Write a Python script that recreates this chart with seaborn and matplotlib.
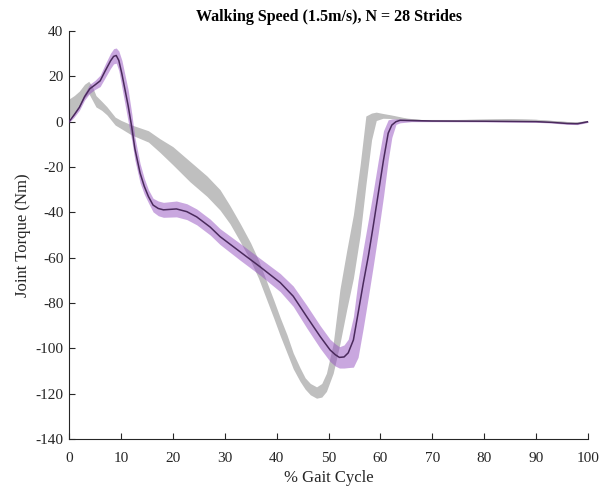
import matplotlib
matplotlib.use("Agg")
import matplotlib.pyplot as plt
import seaborn as sns

# ---- data ----
purple_x = [0, 1, 2, 3, 4, 5, 6, 7, 8, 8.6, 9.1, 9.6, 10.2, 10.8, 11.4, 12.1, 12.7, 13.7,
            14.5, 15.3, 16.2, 17.2, 18.2, 20.7, 22.7, 24.6, 27.2, 29.1, 32.9, 36.8, 40.7,
            43.2, 45.8, 48.4, 50.3, 51.3, 52.1, 53, 53.8, 54.8, 55.7, 56.7, 57.7, 58.6,
            59.6, 60.6, 61.5, 62.2, 63, 63.8, 66, 70, 80, 90, 93, 96, 98, 100]
purple_mean = [0, 3, 6.3, 11, 14.5, 16.2, 18, 22.5, 26.8, 28.8, 29.2, 27, 21, 14, 7, -2.5,
               -12, -22.7, -28.5, -33, -36.8, -38.3, -38.9, -38.5, -39.7, -42, -46.5,
               -50.7, -57.3, -64, -71, -77, -86, -94.8, -100.7, -102.8, -104, -103.8,
               -102, -96.3, -84.5, -71.3, -59, -46.3, -31.6, -16.9, -5.1, -1.5, 0, 0.6,
               0.5, 0.3, 0.2, 0, -0.3, -0.8, -0.9, 0]
purple_lo = [-0.5, 2, 5, 9.5, 12.5, 14.2, 15.5, 19.5, 23.5, 25.5, 25.8, 22.5, 15, 7.5,
             0, -8.5, -17, -27, -32, -35.8, -39.8, -41.5, -42.2, -42, -43.2, -45.5, -50,
             -54.2, -61, -67.7, -75, -81.5, -91, -100, -105.8, -107.8, -108.7, -108.7,
             -108.5, -108.3, -104, -91, -77, -64, -49, -33, -17, -7, -1.2, -0.5, 0, 0,
             -0.1, -0.3, -0.6, -1.2, -1.3, -0.3]
purple_hi = [0.5, 4, 7.5, 12.5, 16.5, 18.2, 20.5, 25.5, 30.2, 32.2, 32.5, 31.2, 27, 20.5,
             14, 3.5, -7, -18.5, -25, -30, -33.8, -35, -35.6, -35, -36.2, -38.5, -43,
             -47.2, -53.6, -60.3, -67, -72.5, -81, -90, -96, -98, -99.3, -98.5, -96, -86,
             -70, -56, -43, -31, -17, -4, 0.8, 1.2, 1.2, 1.2, 1, 0.6, 0.5, 0.3, 0, -0.4,
             -0.5, 0.3]

gray_x = [0, 1, 2, 3, 3.8, 4.5, 5.2, 6.3, 7.3, 8.9, 10, 12, 15.3, 17.5, 20, 23.3, 26.6,
          29.1, 31, 33, 35, 36.5, 38, 39.5, 40.7, 42, 43.2, 44.5, 45.5, 46.5, 47.7, 48.7,
          49.6, 50.9, 52.2, 53.5, 54.8, 56.1, 57.2, 58.3, 59.2, 60.5, 62, 65, 68, 75, 85,
          90, 95, 97.5, 100]
gray_mean = [5.5, 7.5, 10, 13.5, 15.2, 12.5, 9, 7, 4.8, 0.3, -1.2, -3.6, -6.5, -10.5, -15,
             -22, -28.5, -34.5, -41, -49, -57.5, -65, -74, -83, -90.4, -98, -105.5, -111.5,
             -115.5, -118, -119.5, -118.5, -115, -104.5, -86, -70, -55, -34.5, -12.5, 0,
             2.8, 2.6, 2.2, 1, 0.5, 0.5, 0.9, 0.6, -0.2, -0.6, 0]
gray_lo = [1.5, 3.5, 6.5, 10.5, 12.5, 9.5, 6.5, 5, 3, -1.5, -3, -5.8, -9, -13.5, -19,
           -26.5, -33, -39, -45, -53, -61.5, -69, -78, -87, -94.5, -102, -109, -114.5,
           -118, -120.5, -122, -121.5, -119, -111, -98, -83, -69, -50, -28, -8, 0.5, 1.5,
           1.4, 0.4, 0.1, 0.1, 0.5, 0.2, -0.6, -1, -0.3]
gray_hi = [10, 11.5, 13.5, 16.5, 17.8, 15.5, 11.5, 9, 6.6, 2, 0.6, -1.4, -4, -7.5, -11,
           -17.5, -24, -30, -37, -45, -53.5, -61, -70, -79, -86.5, -94, -102, -108.5,
           -113, -115.5, -117, -115.5, -111, -98, -74, -57, -41, -19, 2.5, 3.8, 4.2, 3.6,
           3, 1.6, 0.9, 0.9, 1.3, 1, 0.2, -0.2, 0.3]

x_ticks = list(range(0, 101, 10))
y_ticks = list(range(-140, 41, 20))
title = "Walking Speed (1.5m/s), N = 28 Strides"
x_label = "% Gait Cycle"
y_label = "Joint Torque (Nm)"

# ---- style ----
sns.set_style("ticks")
plt.rcParams["font.family"] = ["Liberation Serif", "DejaVu Serif"]
plt.rcParams["axes.unicode_minus"] = False

fig = plt.figure(figsize=(6.01, 4.87), dpi=100)
ax = fig.add_axes([69 / 601, 1 - 439 / 487, (588 - 69) / 601, (439 - 31) / 487])

gray_col = "#bfbfbf"
band_col = "#9551c1"
line_col = "#4a2a5c"

ax.fill_between(gray_x, gray_lo, gray_hi, color=gray_col, lw=0, zorder=1)
sns.lineplot(x=gray_x, y=gray_mean, color=gray_col, lw=0.8, ax=ax, zorder=2)
ax.fill_between(purple_x, purple_lo, purple_hi, color=band_col, alpha=0.5, lw=0, zorder=3)
sns.lineplot(x=purple_x, y=purple_mean, color=line_col, lw=1.1, ax=ax, zorder=4)

ax.set_xlim(0, 100)
ax.set_ylim(-140, 40)
ax.set_xticks(x_ticks)
ax.set_yticks(y_ticks)
ax.tick_params(direction="in", length=4, width=0.8, labelsize=11, colors="#262626",
               labelcolor="#262626")
ax.tick_params(axis="x", pad=9)
ax.tick_params(axis="y", pad=4)
for s in ["top", "right"]:
    ax.spines[s].set_visible(False)
for s in ["left", "bottom"]:
    ax.spines[s].set_color("#262626")
    ax.spines[s].set_linewidth(0.8)

ax.set_xlabel(x_label, fontsize=12, color="#262626", labelpad=4)
ax.set_ylabel(y_label, fontsize=12, color="#262626", labelpad=3)
ax.set_title(title, fontsize=11.5, fontweight="bold", color="black", pad=7)

fig.savefig("out.png", dpi=100)
